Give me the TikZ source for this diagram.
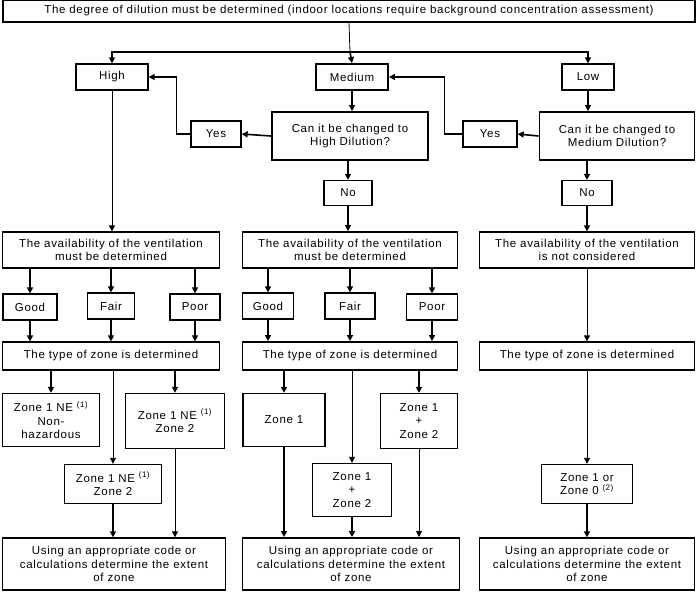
\documentclass[tikz,border=0pt]{standalone}
\usepackage{fontspec}
\setmainfont{Liberation Sans}[LetterSpace=6]
\usepackage{tikz}
\usetikzlibrary{arrows.meta, positioning, calc}

\begin{document}
\begin{tikzpicture}[
      x=1pt, y=-1pt,
      every node/.style={rectangle, draw, line width=1.3pt, align=center, inner sep=1pt,
        font=\fontsize{11.5}{13.5}\selectfont},
      heavy/.style={line width=1.9pt},
      arr/.style={line width=1.6pt, -{Triangle[length=6pt,width=6pt]}},
      tarr/.style={line width=0.8pt, -{Triangle[length=6pt,width=6pt]}},
      tline/.style={line width=0.8pt}
    ]
      \useasboundingbox (0,0) rectangle (699,598);
      % dilution
      \node[minimum width=692, minimum height=22] (top) at (349,11)
        {The degree of dilution must be determined (indoor locations require background concentration assessment)};
      \node[minimum width=72, minimum height=26] (high) at (112,77) {High};
      \node[heavy, minimum width=72, minimum height=26] (medium) at (352,77) {Medium};
      \node[minimum width=52, minimum height=26] (low) at (588,77) {Low};
      \node[heavy, minimum width=156, minimum height=48] (canhigh) at (350,136) {Can it be changed to\\High Dilution?};
      \node[minimum width=50, minimum height=26] (yesl) at (216,134) {Yes};
      \node[heavy, minimum width=155, minimum height=48] (canmed) at (617,136) {Can it be changed to\\Medium Dilution?};
      \node[minimum width=54, minimum height=26] (yesr) at (490,134) {Yes};
      \node[minimum width=48, minimum height=25] (nom) at (348,193) {No};
      \node[minimum width=50, minimum height=25] (nor) at (587,193) {No};
      % ventilation
      \node[minimum width=217, minimum height=36] (avl) at (111,250) {The availability of the ventilation\\must be determined};
      \node[heavy, minimum width=215, minimum height=36] (avm) at (350,250) {The availability of the ventilation\\must be determined};
      \node[minimum width=215, minimum height=36] (avr) at (587,250) {The availability of the ventilation\\is not considered};
      \node[minimum width=54, minimum height=26] (goodl) at (30,307) {Good};
      \node[minimum width=47, minimum height=26] (fairl) at (111,306) {Fair};
      \node[minimum width=50, minimum height=26] (poorl) at (195,307) {Poor};
      \node[minimum width=51, minimum height=26] (goodm) at (268,306) {Good};
      \node[minimum width=50, minimum height=26] (fairm) at (350,306) {Fair};
      \node[minimum width=51, minimum height=26] (poorm) at (432,307) {Poor};
      % zones
      \node[minimum width=217, minimum height=28] (typel) at (111,356) {The type of zone is determined};
      \node[heavy, minimum width=215, minimum height=28] (typem) at (350,356) {The type of zone is determined};
      \node[minimum width=215, minimum height=28] (typer) at (587,356) {The type of zone is determined};
      \node[minimum width=97, minimum height=53] (zla) at (51,420) {Zone 1 NE \textsuperscript{(1)}\\Non-\\hazardous};
      \node[minimum width=99, minimum height=55] (zlb) at (175,421) {Zone 1 NE \textsuperscript{(1)}\\Zone 2};
      \node[minimum width=97, minimum height=39] (zlc) at (113,484) {Zone 1 NE \textsuperscript{(1)}\\Zone 2};
      \node[minimum width=82, minimum height=53] (zma) at (284,420) {Zone 1};
      \node[minimum width=77, minimum height=55] (zmb) at (419,421) {Zone 1\\+\\Zone 2};
      \node[minimum width=79, minimum height=53] (zmc) at (352,490) {Zone 1\\+\\Zone 2};
      \node[minimum width=91, minimum height=39] (zr) at (587,484) {Zone 1 or\\Zone 0 \textsuperscript{(2)}};
      \node[minimum width=223, minimum height=52] (finl) at (114,564) {Using an appropriate code or\\calculations determine the extent\\of zone};
      \node[heavy, minimum width=217, minimum height=52] (finm) at (351,564) {Using an appropriate code or\\calculations determine the extent\\of zone};
      \node[minimum width=215, minimum height=52] (finr) at (587,564) {Using an appropriate code or\\calculations determine the extent\\of zone};

      \coordinate (bus) at (350,52);
      \draw[tline] (top.south) -- (bus);
      \draw[arr] (bus) -| (high.north);
      \draw[arr] (bus) -- (medium.north);
      \draw[arr] (bus) -| (low.north);
      \draw[arr] (medium.south) -- (medium.south |- canhigh.north);
      \draw[arr] (canhigh.west) -- (yesl.east);
      \draw[arr] (yesl.west) -- ++(-14,0) |- (high.east);
      \draw[arr] (low.south) -- (low.south |- canmed.north);
      \draw[arr] (canmed.west) -- (yesr.east);
      \draw[arr] (yesr.west) -- ++(-18,0) |- (medium.east);
      \draw[arr] (nom.north |- canhigh.south) -- (nom.north);
      \draw[arr] (nor.north |- canmed.south) -- (nor.north);
      \draw[tarr] (high.south) -- (high.south |- avl.north);
      \draw[arr] (nom.south) -- (nom.south |- avm.north);
      \draw[arr] (nor.south) -- (nor.south |- avr.north);
      % left column
      \foreach \n in {goodl, fairl, poorl} {
        \draw[arr] (\n.north |- avl.south) -- (\n.north);
        \draw[arr] (\n.south) -- (\n.south |- typel.north);
      }
      \draw[arr] (zla.north |- typel.south) -- (zla.north);
      \draw[arr] (zlb.north |- typel.south) -- (zlb.north);
      \draw[tarr] (zlc.north |- typel.south) -- (zlc.north);
      \draw[arr] (zlc.south) -- (zlc.south |- finl.north);
      \draw[tarr] (zlb.south) -- (zlb.south |- finl.north);
      % middle column
      \foreach \n in {goodm, fairm, poorm} {
        \draw[arr] (\n.north |- avm.south) -- (\n.north);
        \draw[arr] (\n.south) -- (\n.south |- typem.north);
      }
      \draw[arr] (zma.north |- typem.south) -- (zma.north);
      \draw[arr] (zmb.north |- typem.south) -- (zmb.north);
      \draw[tarr] (zmc.north |- typem.south) -- (zmc.north);
      \draw[arr] (zma.south) -- (zma.south |- finm.north);
      \draw[arr] (zmc.south) -- (zmc.south |- finm.north);
      \draw[tarr] (zmb.south) -- (zmb.south |- finm.north);
      % right column
      \draw[tarr] (avr.south) -- (typer.north);
      \draw[tarr] (typer.south) -- (zr.north);
      \draw[arr] (zr.south) -- (finr.north);
    \end{tikzpicture}
\end{document}
